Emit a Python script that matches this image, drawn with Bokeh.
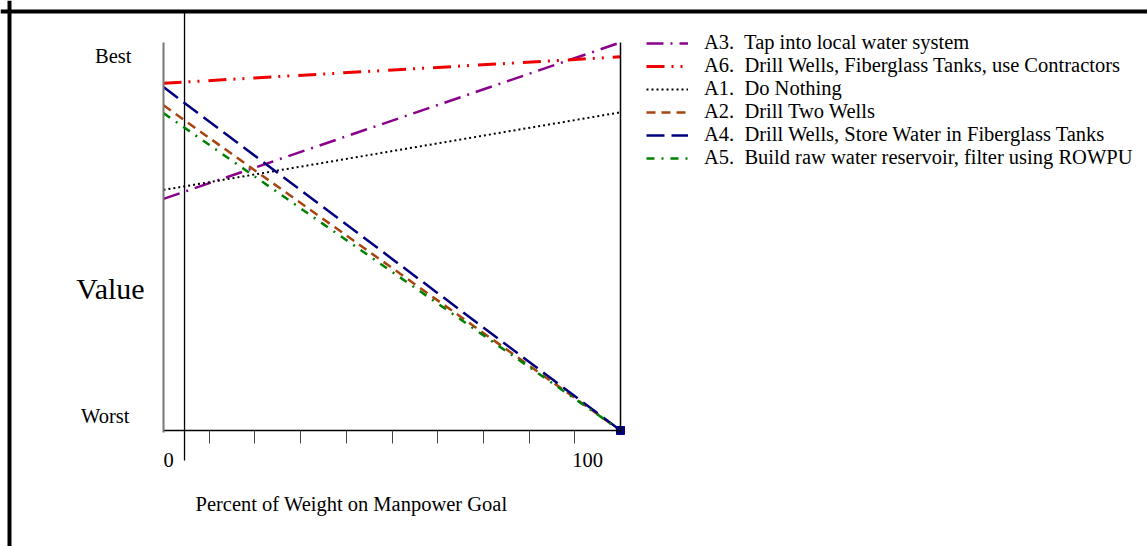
from bokeh.plotting import figure
from bokeh.models import (Range1d, LinearAxis, FixedTicker, Legend, LegendItem,
                          Label, Span)
from bokeh.embed import file_html
from bokeh.resources import INLINE

# ---------------- data ----------------
weight = [0, 100]                     # percent of weight on manpower goal
a3 = [0.597, 1.000]                   # Tap into local water system
a6 = [0.895, 0.963]                   # Drill Wells, Fiberglass Tanks, use Contractors
a1 = [0.620, 0.820]                   # Do Nothing
a2 = [0.838, 0.000]                   # Drill Two Wells
a4 = [0.885, 0.000]                   # Drill Wells, Store Water in Fiberglass Tanks
a5 = [0.818, 0.000]                   # Build raw water reservoir, filter using ROWPU

x_ticks = [10, 20, 30, 40, 50, 60, 70, 80, 90]
x_tick_labels = ["0", "100"]
y_tick_labels = ["Worst", "Best"]

series_names = [
    "A3.  Tap into local water system",
    "A6.  Drill Wells, Fiberglass Tanks, use Contractors",
    "A1.  Do Nothing",
    "A2.  Drill Two Wells",
    "A4.  Drill Wells, Store Water in Fiberglass Tanks",
    "A5.  Build raw water reservoir, filter using ROWPU",
]

# ---------------- layout ----------------
W, H = 1147, 546
px_x = 4.57      # pixels per x unit
px_y = 388.0     # pixels per y unit
x0 = -163 / px_x
x1 = x0 + W / px_x
y1 = 1 + 42 / px_y
y0 = y1 - H / px_y

FONT = "Liberation Serif"
FS = "20.5px"

p = figure(width=W, height=H, x_range=Range1d(x0, x1), y_range=Range1d(y0, y1),
           x_axis_type=None, y_axis_type=None, toolbar_location=None,
           output_backend="svg", min_border=0, outline_line_color=None,
           background_fill_color="white", border_fill_color="white")

# page frame (top and left thick rules)
p.add_layout(Span(location=x0 + 9 / px_x, dimension="height", line_color="black", line_width=4))
p.add_layout(Span(location=y1 - 11 / px_y, dimension="width", line_color="black", line_width=4))

# divider rule
div_x = 4.6
p.segment(x0=[div_x], y0=[-0.077], x1=[div_x], y1=[y1 - 11 / px_y], line_color="black", line_width=1.3)

# axes
xaxis = LinearAxis(fixed_location=0, bounds=(weight[0], weight[-1]),
                   ticker=FixedTicker(ticks=x_ticks),
                   major_label_overrides={t: "" for t in x_ticks},
                   major_tick_in=0, major_tick_out=13,
                   major_tick_line_color="#444444", major_tick_line_width=1,
                   minor_tick_line_color=None,
                   axis_line_color="black", axis_line_width=1.5)
p.add_layout(xaxis, "below")

yaxis = LinearAxis(fixed_location=weight[0], bounds=(-0.005, 1),
                   ticker=FixedTicker(ticks=[]),
                   major_tick_line_color=None, minor_tick_line_color=None,
                   axis_line_color="#777777", axis_line_width=2)
p.add_layout(yaxis, "left")

raxis = LinearAxis(fixed_location=weight[-1], bounds=(-0.005, 1),
                   ticker=FixedTicker(ticks=[]),
                   major_tick_line_color=None, minor_tick_line_color=None,
                   axis_line_color="black", axis_line_width=1.5)
p.add_layout(raxis, "right")

# series
styles = [
    (a3, "#8B008B", "17 7 2 7", 2.5),
    (a6, "#EE0000", "18 7 2 7 2 9", 3),
    (a1, "black", "2 3", 2),
    (a2, "#A8450F", "9 6", 2.5),
    (a4, "#000080", "18 7", 2.5),
    (a5, "#008000", "8 7 2 7", 2.5),
]
renderers = []
for vals, col, dash, lw in styles:
    r = p.line(weight, vals, line_color=col, line_dash=dash, line_width=lw)
    renderers.append(r)

p.scatter([weight[-1]], [a4[-1]], marker="square", size=8, color="#000080")

legend = Legend(items=[LegendItem(label=n, renderers=[r]) for n, r in zip(series_names, renderers)],
                location=(646, 377), orientation="vertical",
                padding=0, margin=0, spacing=0,
                glyph_width=42, glyph_height=22, label_height=22, label_standoff=16,
                label_text_font=FONT, label_text_font_size=FS, label_text_color="black",
                border_line_color=None, background_fill_alpha=0)
p.add_layout(legend)

# y labels
p.add_layout(Label(x=weight[0], y=1, x_offset=-32, y_offset=-13, text=y_tick_labels[1],
                   text_align="right", text_baseline="middle",
                   text_font=FONT, text_font_size=FS, text_color="black"))
p.add_layout(Label(x=weight[0], y=0, x_offset=-34, y_offset=15, text=y_tick_labels[0],
                   text_align="right", text_baseline="middle",
                   text_font=FONT, text_font_size=FS, text_color="black"))
p.add_layout(Label(x=weight[0], y=0, x_offset=-53, y_offset=142, text="Value",
                   text_align="center", text_baseline="middle",
                   text_font=FONT, text_font_size="30px", text_color="black"))

# x labels
p.add_layout(Label(x=weight[0], y=0, x_offset=5, y_offset=-29, text=x_tick_labels[0],
                   text_align="center", text_baseline="middle",
                   text_font=FONT, text_font_size=FS, text_color="black"))
p.add_layout(Label(x=weight[-1], y=0, x_offset=-33, y_offset=-29, text=x_tick_labels[1],
                   text_align="center", text_baseline="middle",
                   text_font=FONT, text_font_size=FS, text_color="black"))
p.add_layout(Label(x=weight[0], y=0, x_offset=32, y_offset=-73, text="Percent of Weight on Manpower Goal",
                   text_align="left", text_baseline="middle",
                   text_font=FONT, text_font_size=FS, text_color="black"))

open("out.html", "w").write(file_html(p, INLINE))
